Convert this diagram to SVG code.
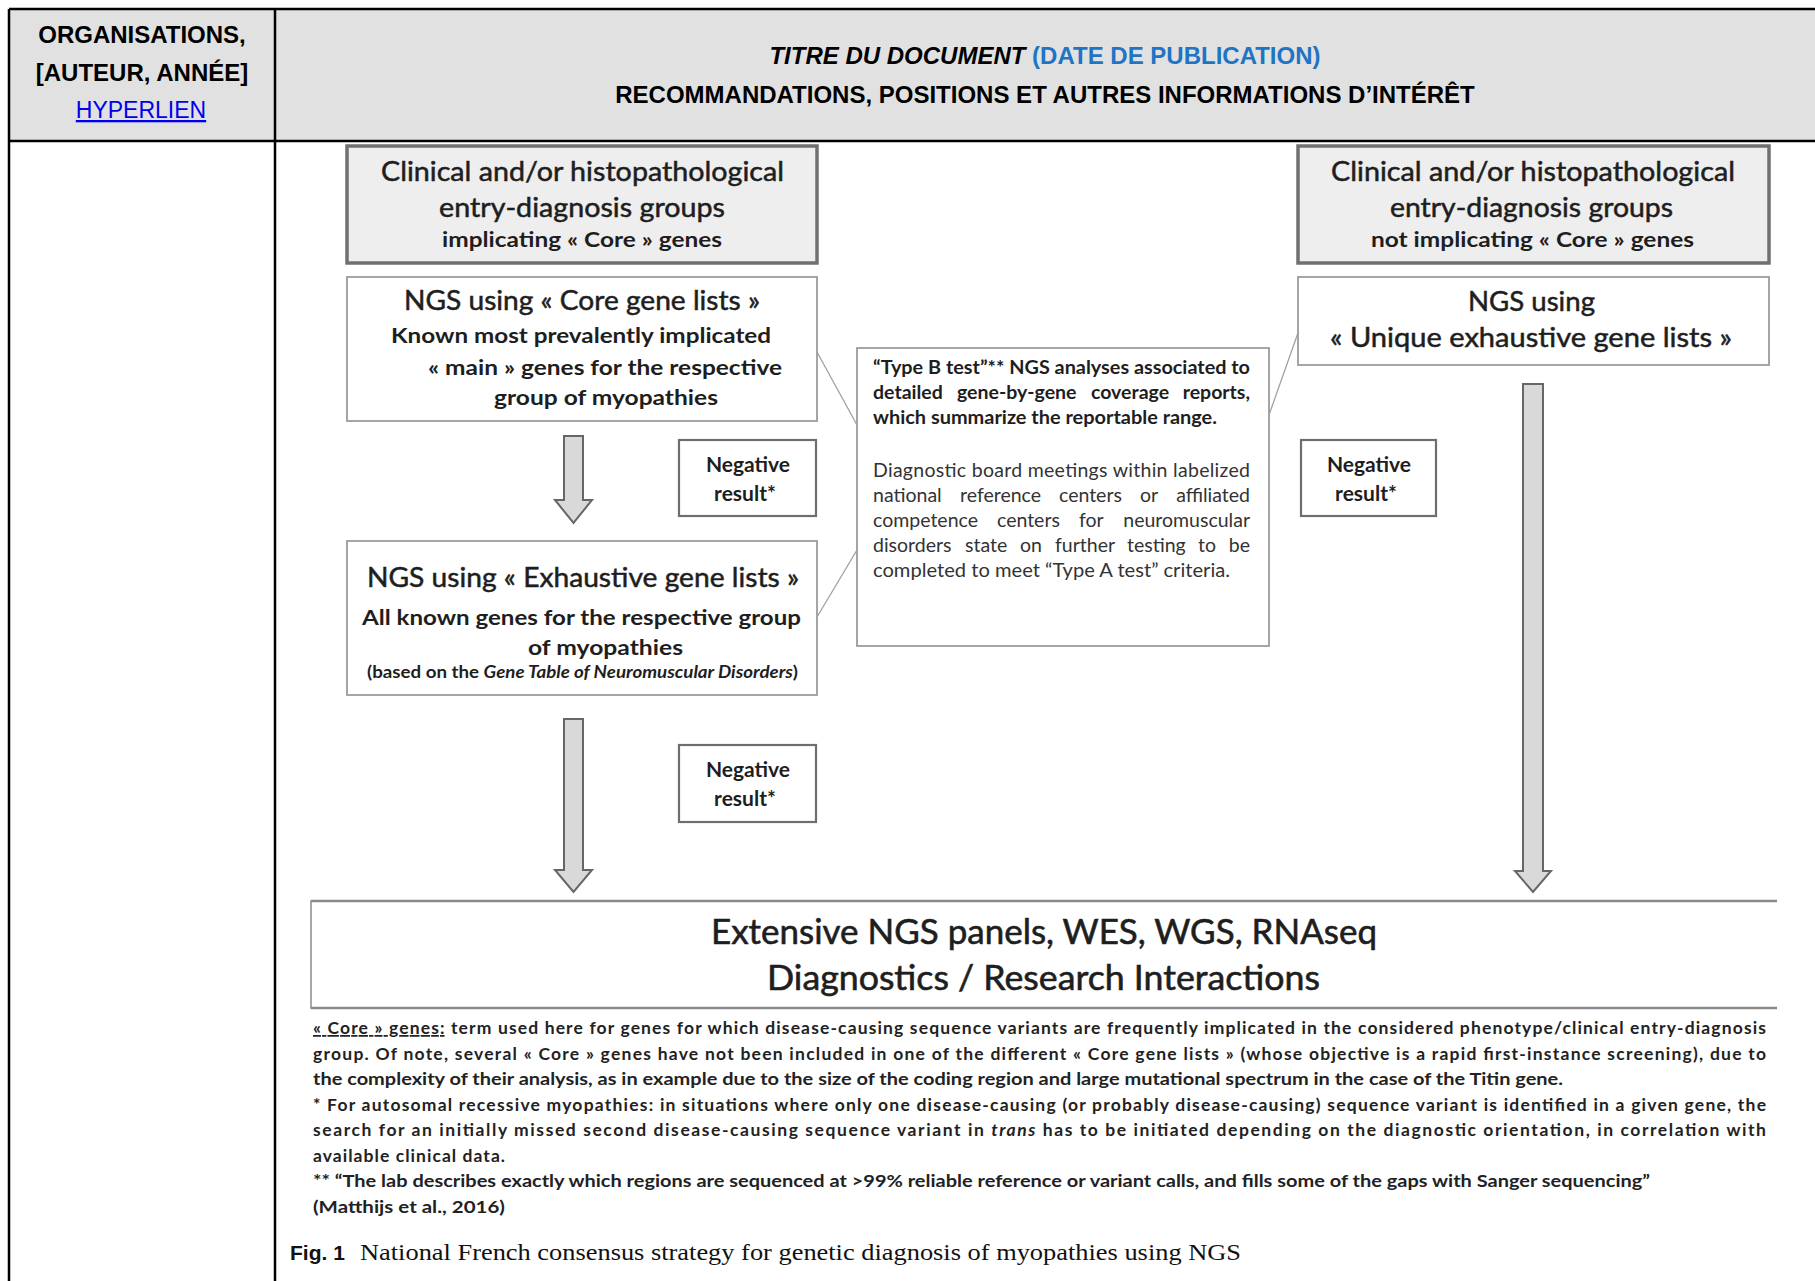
<svg xmlns="http://www.w3.org/2000/svg" width="1815" height="1281" viewBox="0 0 1815 1281">
<style>
.tbl{stroke:#000;stroke-width:2.5;fill:none}
.hdr{font-family:"Liberation Sans",Arial,sans-serif;font-weight:bold;font-size:24px;fill:#000}
.fig{font-family:Lato,"Open Sans","DejaVu Sans",sans-serif;fill:#1e1e1e}
.gbox{fill:#eeeeee;stroke:#707070;stroke-width:3.5}
.wbox{fill:#fff;stroke:#9c9c9c;stroke-width:1.8}
.nbox{fill:#fff;stroke:#6e6e6e;stroke-width:2.2}
.arrow{fill:#d9d9d9;stroke:#666;stroke-width:2;stroke-linejoin:miter}
.callout{stroke:#a0a0a0;stroke-width:1.3;fill:none}
.h27{font-size:27px;stroke:#1e1e1e;stroke-width:0.5}
.b21{font-size:21px;font-weight:bold}
.mid{font-size:19.5px}
.midb{font-size:19.5px;font-weight:bold}
.reg{fill:#333}
.fn{font-size:17.5px;font-weight:bold;fill:#222}
.big{font-size:35px;stroke:#1e1e1e;stroke-width:0.6}
</style>

<!-- table frame -->
<g id="table">
<rect x="9" y="9" width="1806" height="132" fill="#e1e1e1"/>
<line class="tbl" x1="9" y1="9" x2="1815" y2="9"/>
<line class="tbl" x1="9" y1="141" x2="1815" y2="141"/>
<line class="tbl" x1="9" y1="9" x2="9" y2="1281"/>
<line class="tbl" x1="275" y1="9" x2="275" y2="1281"/>
<text class="hdr" x="142" y="43" text-anchor="middle" font-size="22.5">ORGANISATIONS,</text>
<text class="hdr" x="142" y="81" text-anchor="middle" font-size="22.5">[AUTEUR, ANNÉE]</text>
<text x="141" y="118" text-anchor="middle" font-family="'Liberation Sans',Arial,sans-serif" font-size="23" fill="#0000ee" text-decoration="underline">HYPERLIEN</text>
<text class="hdr" x="1045" y="64" text-anchor="middle"><tspan font-style="italic">TITRE DU DOCUMENT</tspan> <tspan fill="#1f74c4">(DATE DE PUBLICATION)</tspan></text>
<text class="hdr" x="1045" y="103" text-anchor="middle">RECOMMANDATIONS, POSITIONS ET AUTRES INFORMATIONS D’INTÉRÊT</text>
</g>

<!-- connectors -->
<g id="connectors">
<path class="callout" d="M817,352 L857,425"/>
<path class="callout" d="M817,617 L857,550"/>
<path class="callout" d="M1269,415 L1299,330"/>
<path id="arrow1" class="arrow" d="M564,436 H583 V500 H592 L573.5,523 L555,500 H564 Z"/>
<path id="arrow2" class="arrow" d="M564,719 H583 V870 H592 L573.5,892 L555,870 H564 Z"/>
<path id="arrow3" class="arrow" d="M1523,384 H1543 V871 H1551 L1533,892 L1515,871 H1523 Z"/>
</g>

<g id="core-groups" class="fig">
<rect class="gbox" x="347" y="146" width="470" height="117"/>
<text class="h27" x="381" y="181" textLength="403" lengthAdjust="spacingAndGlyphs">Clinical and/or histopathological</text>
<text class="h27" x="439" y="217" textLength="286" lengthAdjust="spacingAndGlyphs">entry-diagnosis groups</text>
<text class="b21" x="442" y="247" textLength="280" lengthAdjust="spacingAndGlyphs">implicating « Core » genes</text>
</g>

<g id="noncore-groups" class="fig">
<rect class="gbox" x="1298" y="146" width="471" height="117"/>
<text class="h27" x="1331" y="181" textLength="404" lengthAdjust="spacingAndGlyphs">Clinical and/or histopathological</text>
<text class="h27" x="1390" y="217" textLength="283" lengthAdjust="spacingAndGlyphs">entry-diagnosis groups</text>
<text class="b21" x="1371" y="247" textLength="323" lengthAdjust="spacingAndGlyphs">not implicating « Core » genes</text>
</g>

<g id="ngs-core" class="fig">
<rect class="wbox" x="347" y="277" width="470" height="144"/>
<text class="h27" x="404" y="310" textLength="356" lengthAdjust="spacingAndGlyphs">NGS using « Core gene lists »</text>
<text class="b21" x="391" y="343" textLength="380" lengthAdjust="spacingAndGlyphs">Known most prevalently implicated</text>
<text class="b21" x="428" y="375" textLength="354" lengthAdjust="spacingAndGlyphs">« main » genes for the respective</text>
<text class="b21" x="494" y="405" textLength="224" lengthAdjust="spacingAndGlyphs">group of myopathies</text>
</g>

<g id="ngs-unique" class="fig">
<rect class="wbox" x="1298" y="277" width="471" height="88"/>
<text class="h27" x="1468" y="311" textLength="127" lengthAdjust="spacingAndGlyphs">NGS using</text>
<text class="h27" x="1330" y="347" textLength="402" lengthAdjust="spacingAndGlyphs">« Unique exhaustive gene lists »</text>
</g>

<g id="negative-1" class="fig">
<rect class="nbox" x="679" y="440" width="137" height="76"/>
<text class="b21" x="748" y="472" text-anchor="middle">Negative</text>
<text class="b21" x="745" y="501" text-anchor="middle">result*</text>
</g>

<g id="negative-2" class="fig">
<rect class="nbox" x="679" y="745" width="137" height="77"/>
<text class="b21" x="748" y="777" text-anchor="middle">Negative</text>
<text class="b21" x="745" y="806" text-anchor="middle">result*</text>
</g>

<g id="negative-3" class="fig">
<rect class="nbox" x="1301" y="440" width="135" height="76"/>
<text class="b21" x="1369" y="472" text-anchor="middle">Negative</text>
<text class="b21" x="1366" y="501" text-anchor="middle">result*</text>
</g>

<g id="ngs-exhaustive" class="fig">
<rect class="wbox" x="347" y="541" width="470" height="154"/>
<text class="h27" x="367" y="587" textLength="432" lengthAdjust="spacingAndGlyphs">NGS using « Exhaustive gene lists »</text>
<text class="b21" x="362" y="625" textLength="439" lengthAdjust="spacingAndGlyphs">All known genes for the respective group</text>
<text class="b21" x="528" y="655" textLength="155" lengthAdjust="spacingAndGlyphs">of myopathies</text>
<text x="367" y="678" font-size="16.5" font-weight="bold" textLength="431" lengthAdjust="spacingAndGlyphs">(based on the <tspan font-style="italic">Gene Table of Neuromuscular Disorders</tspan>)</text>
</g>

<g id="type-b-note" class="fig">
<rect class="wbox" x="857" y="348" width="412" height="298"/>
<text class="midb" x="873" y="374" textLength="377" lengthAdjust="spacingAndGlyphs">“Type B test”** NGS analyses associated to</text>
<text class="midb" x="873" y="399">detailed</text>
<text class="midb" x="957" y="399">gene-by-gene</text>
<text class="midb" x="1091" y="399">coverage</text>
<text class="midb" x="1250" y="399" text-anchor="end">reports,</text>
<text class="midb" x="873" y="424" textLength="344" lengthAdjust="spacingAndGlyphs">which summarize the reportable range.</text>
<g class="reg">
<text class="mid" x="873" y="477" textLength="377" lengthAdjust="spacing">Diagnostic board meetings within labelized</text>
<text class="mid" x="873" y="502">national</text>
<text class="mid" x="960" y="502">reference</text>
<text class="mid" x="1059" y="502">centers</text>
<text class="mid" x="1140" y="502">or</text>
<text class="mid" x="1250" y="502" text-anchor="end">affiliated</text>
<text class="mid" x="873" y="527">competence</text>
<text class="mid" x="997" y="527">centers</text>
<text class="mid" x="1079" y="527">for</text>
<text class="mid" x="1250" y="527" text-anchor="end">neuromuscular</text>
<text class="mid" x="873" y="552">disorders</text>
<text class="mid" x="965" y="552">state</text>
<text class="mid" x="1020" y="552">on</text>
<text class="mid" x="1055" y="552">further</text>
<text class="mid" x="1127" y="552">testing</text>
<text class="mid" x="1198" y="552">to</text>
<text class="mid" x="1250" y="552" text-anchor="end">be</text>
<text class="mid" x="873" y="577" textLength="357" lengthAdjust="spacingAndGlyphs">completed to meet “Type A test” criteria.</text>
</g>
</g>

<g id="extensive" class="fig">
<path d="M1777,901 H311 V1008 H1777" fill="#fff" stroke="#8a8a8a" stroke-width="1.5"/>
<line x1="311" y1="901" x2="1777" y2="901" stroke="#8a8a8a" stroke-width="2.5"/>
<line x1="311" y1="1008" x2="1777" y2="1008" stroke="#8a8a8a" stroke-width="2.5"/>
<text class="big" x="711" y="944" textLength="666" lengthAdjust="spacingAndGlyphs">Extensive NGS panels, WES, WGS, RNAseq</text>
<text class="big" x="767" y="990" textLength="553" lengthAdjust="spacingAndGlyphs">Diagnostics / Research Interactions</text>
</g>

<g id="footnotes" class="fig">
<text class="fn" x="313" y="1034" textLength="1453" lengthAdjust="spacing"><tspan text-decoration="underline">« Core » genes:</tspan> term used here for genes for which disease-causing sequence variants are frequently implicated in the considered phenotype/clinical entry-diagnosis</text>
<text class="fn" x="313" y="1059.5" textLength="1453" lengthAdjust="spacing">group. Of note, several « Core » genes have not been included in one of the different « Core gene lists » (whose objective is a rapid first-instance screening), due to</text>
<text class="fn" x="313" y="1085" textLength="1250" lengthAdjust="spacingAndGlyphs">the complexity of their analysis,  as in example due to the size of the coding region and large mutational spectrum in the case of the Titin gene.</text>
<text class="fn" x="313" y="1110.5" textLength="1453" lengthAdjust="spacing">* For autosomal recessive myopathies: in situations where only one disease-causing (or probably disease-causing) sequence variant is identified in a given gene, the</text>
<text class="fn" x="313" y="1136" textLength="1453" lengthAdjust="spacing">search for an initially missed second disease-causing sequence variant in <tspan font-style="italic">trans</tspan> has to be initiated depending on the diagnostic orientation, in correlation with</text>
<text class="fn" x="313" y="1161.5" textLength="192" lengthAdjust="spacing">available clinical data.</text>
<text class="fn" x="313" y="1187" textLength="1337" lengthAdjust="spacingAndGlyphs">** “The lab describes exactly which regions are sequenced at &gt;99% reliable reference or variant calls, and fills some of the gaps with Sanger sequencing”</text>
<text class="fn" x="313" y="1212.5" textLength="192" lengthAdjust="spacingAndGlyphs">(Matthijs et al., 2016)</text>
</g>

<g id="caption">
<text x="290" y="1260" font-family="'Liberation Sans',Arial,sans-serif" font-weight="bold" font-size="21" fill="#111">Fig. 1</text>
<text x="360" y="1260" font-family="'Liberation Serif','Times New Roman',serif" font-size="23" fill="#111" textLength="881" lengthAdjust="spacingAndGlyphs">National French consensus strategy for genetic diagnosis of myopathies using NGS</text>
</g>
</svg>
